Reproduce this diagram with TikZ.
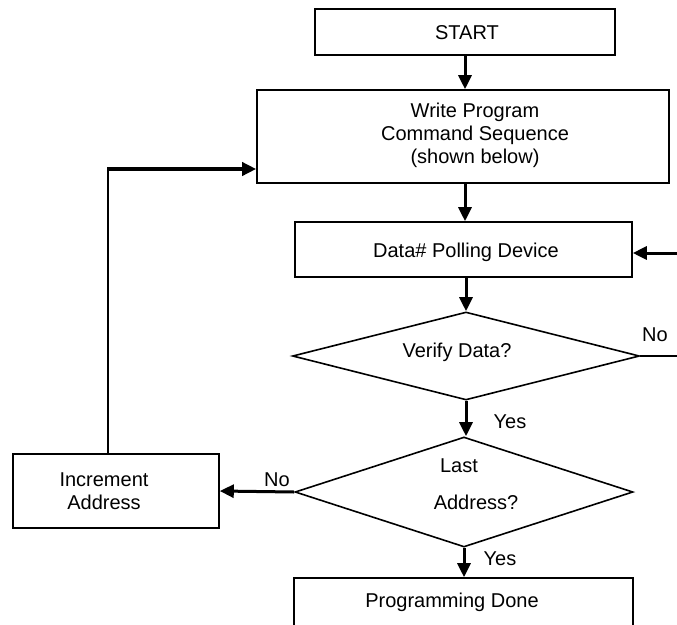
\documentclass[tikz,border=0pt]{standalone}
\usepackage{fontspec}
\setmainfont{Liberation Sans}
\usetikzlibrary{arrows.meta,shapes.geometric}
\begin{document}
\begin{tikzpicture}[x=1pt,y=-1pt,
 box/.style={draw,line width=1.6pt,rectangle,inner sep=0pt},
 dia/.style={draw,line width=1.6pt,diamond,inner sep=0pt},
 txt/.style={font=\fontsize{20}{23}\selectfont,align=center,inner sep=0pt},
 arr/.style={line width=3pt,-{Triangle[length=14pt,width=13pt]}},
 thinline/.style={line width=1.6pt}]
\useasboundingbox (0,0) rectangle (677,624);
\clip (0,0) rectangle (677,624);
% shapes
\node[box,minimum width=300pt,minimum height=46pt] (start) at (465,32) {};
\node[box,minimum width=412pt,minimum height=93pt] (write) at (463,136.5) {};
\node[box,minimum width=337pt,minimum height=55pt] (data) at (463.5,249.5) {};
\node[dia,minimum width=347pt,minimum height=88pt] (verify) at (466,356) {};
\node[dia,minimum width=338pt,minimum height=110pt] (last) at (464,492) {};
\node[box,minimum width=339pt,minimum height=70pt] (done) at (463.5,613) {};
\node[box,minimum width=206pt,minimum height=74pt] (inc) at (116,491) {};
% texts
\node[txt] (tstart) at (467,33) {START};
\node[txt] (twrite) at (475,135) {Write Program\\Command Sequence\\(shown below)};
\node[txt] (tdata) at (466,252) {Data\# Polling Device};
\node[txt] (tverify) at (457,352) {Verify Data?};
\node[txt] (tlast1) at (459,466) {Last};
\node[txt] (tlast2) at (476,502) {Address?};
\node[txt] (tdone) at (452,602) {Programming Done};
\node[txt] (tinc) at (104,491) {Increment\\Address};
\node[txt] (lno1) at (655,335) {No};
\node[txt] (lyes1) at (510,422) {Yes};
\node[txt] (lno2) at (277,480) {No};
\node[txt] (lyes2) at (500,559) {Yes};
% connectors
\draw[arr] (start.south) -- (start.south |- write.north);
\draw[arr] (write.south -| start.south) -- (data.north -| start.south);
\draw[arr] (data.south -| verify.north) -- (verify.north);
\draw[arr] (verify.south) -- (verify.south |- last.north);
\draw[arr] (last.south) -- (last.south |- done.north);
\draw[arr] (last.west) -- (inc.east);
\coordinate (fb) at (700,253);
\draw[thinline] (verify.east) -- (700,356) -- (fb);
\draw[arr] (fb) -- (fb -| data.east);
\coordinate (c1) at (108,169);
\draw[thinline] (c1 |- inc.north) -- (c1);
\draw[arr,line width=4pt] (107,169) -- (c1 -| write.west);
\end{tikzpicture}
\end{document}
